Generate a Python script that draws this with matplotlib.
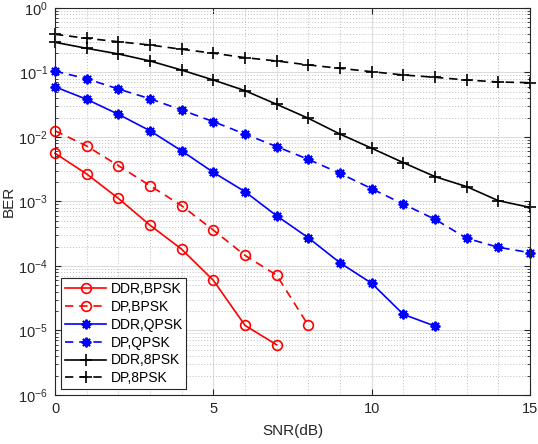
import matplotlib
matplotlib.use("Agg")
import matplotlib.pyplot as plt
from matplotlib.ticker import LogLocator, FixedLocator, NullFormatter

snr = list(range(16))

ddr_bpsk = [5.6e-3, 2.67e-3, 1.12e-3, 4.3e-4, 1.82e-4, 6.0e-5, 1.2e-5, 6.0e-6]
dp_bpsk = [1.25e-2, 7.25e-3, 3.6e-3, 1.76e-3, 8.6e-4, 3.6e-4, 1.46e-4, 7.2e-5, 1.2e-5]
ddr_qpsk = [6.0e-2, 3.84e-2, 2.25e-2, 1.25e-2, 6.1e-3, 2.83e-3, 1.42e-3, 6.0e-4,
            2.74e-4, 1.12e-4, 5.4e-5, 1.78e-5, 1.17e-5]
dp_qpsk = [0.105, 0.080, 0.0555, 0.0392, 0.0262, 0.0173, 0.0111, 7.1e-3, 4.5e-3,
           2.73e-3, 1.58e-3, 9.1e-4, 5.3e-4, 2.69e-4, 1.95e-4, 1.61e-4]
ddr_8psk = [0.294, 0.237, 0.194, 0.151, 0.109, 0.0765, 0.0523, 0.0321, 0.0195,
            0.0111, 6.7e-3, 4.0e-3, 2.43e-3, 1.7e-3, 1.03e-3, 8.1e-4]
dp_8psk = [0.391, 0.339, 0.30, 0.267, 0.229, 0.199, 0.17, 0.151, 0.131, 0.116,
           0.103, 0.0915, 0.0843, 0.0765, 0.0713, 0.0695]

labels = ["DDR,BPSK", "DP,BPSK", "DDR,QPSK", "DP,QPSK", "DDR,8PSK", "DP,8PSK"]
xticks = [0, 5, 10, 15]

plt.rcParams['font.family'] = ['Liberation Sans', 'DejaVu Sans']

fig = plt.figure(figsize=(5.38, 4.44), dpi=100)
ax = fig.add_axes([55/538, 1-395/444, (530-55)/538, (395-8)/444])

dash = (0, (5, 3.5))
asterisk = (8, 2, 0)
series = [
    (ddr_bpsk, 'red', '-', 'o'),
    (dp_bpsk, 'red', dash, 'o'),
    (ddr_qpsk, 'blue', '-', asterisk),
    (dp_qpsk, 'blue', dash, asterisk),
    (ddr_8psk, 'black', '-', '+'),
    (dp_8psk, 'black', dash, '+'),
]
for (vals, c, ls, m), lab in zip(series, labels):
    if m == 'o':
        ms, mew = 7, 1.2
    elif m == '+':
        ms, mew = 9, 1.2
    else:
        ms, mew = 7, 1.4
    ax.plot(snr[:len(vals)], vals, color=c, linestyle=ls, marker=m, markersize=ms,
            markerfacecolor='none' if m == 'o' else c, markeredgewidth=mew,
            linewidth=1.2, label=lab, clip_on=False)

ax.set_yscale('log')
ax.set_xlim(0, 15)
ax.set_ylim(1e-6, 1)
ax.set_xticks(xticks)
ax.set_xticklabels([str(t) for t in xticks])
ax.yaxis.set_major_locator(FixedLocator([10.0**k for k in range(-6, 1)]))
ax.yaxis.set_minor_locator(LogLocator(base=10, subs=range(2, 10), numticks=20))
ax.yaxis.set_minor_formatter(NullFormatter())
ax.xaxis.set_minor_locator(FixedLocator([i for i in range(0, 16) if i % 5 != 0]))

ax.grid(True, which='major', color='#dcdcdc', linewidth=0.8, linestyle='-')
ax.grid(True, which='minor', color='#bdbdbd', linewidth=0.7, linestyle=(0, (1, 2)))
ax.set_axisbelow(True)

ax.tick_params(which='both', direction='in', top=True, right=True, colors='#262626',
               labelsize=10.5)
ax.tick_params(which='major', length=4, pad=5)
ax.tick_params(which='minor', length=2)
ax.tick_params(axis='x', which='minor', length=0)
for sp in ax.spines.values():
    sp.set_color('#262626')
    sp.set_linewidth(0.8)

ax.set_xlabel('SNR(dB)', fontsize=11, color='#262626', labelpad=6)
ax.set_ylabel('BER', fontsize=11, color='#262626', labelpad=2)

leg = ax.legend(loc='lower left', fontsize=10, frameon=True, fancybox=False,
                edgecolor='#262626', framealpha=1, handlelength=3.0,
                borderpad=0.25, labelspacing=0.28, handletextpad=0.3,
                borderaxespad=0.45)
leg.get_frame().set_linewidth(0.8)

fig.savefig('out.png', dpi=100)
